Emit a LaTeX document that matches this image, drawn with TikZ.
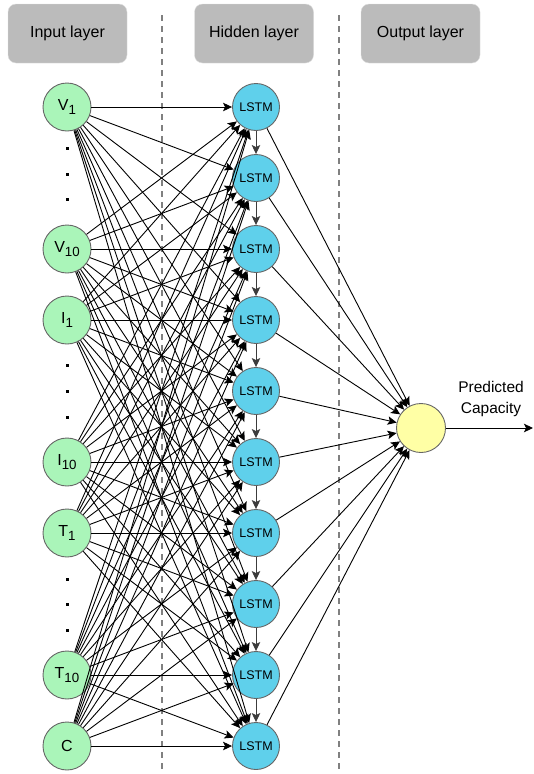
\documentclass[tikz,border=0pt]{standalone}
\usepackage{fontspec}
\setmainfont{Liberation Sans}
\usepackage{tikz}
\usetikzlibrary{arrows.meta, positioning}

\definecolor{InGreen}{RGB}{170,245,185}
\definecolor{CellBlue}{RGB}{95,208,235}
\definecolor{OutYellow}{RGB}{255,255,165}
\definecolor{BoxGray}{RGB}{187,187,187}
\definecolor{RimGray}{RGB}{102,102,102}

% lowered index as in the labels
\newcommand{\Idx}[1]{\raisebox{-4.3pt}{\fontsize{13.3}{13.3}\selectfont #1}}

\begin{document}
\begin{tikzpicture}[
	x=1pt, y=-1pt,
	InNode/.style={circle, draw=RimGray, line width=0.9pt, fill=InGreen,
		minimum size=48pt, inner sep=0pt, font=\fontsize{16}{19}\selectfont},
	CellNode/.style={circle, draw=RimGray, line width=0.9pt, fill=CellBlue,
		minimum size=47pt, inner sep=0pt, font=\fontsize{12.5}{15}\selectfont},
	OutNode/.style={circle, draw=RimGray, line width=0.9pt, fill=OutYellow,
		minimum size=49pt, inner sep=0pt},
	LayerBox/.style={draw={rgb,255:red,222;green,222;blue,222}, fill=BoxGray,
		rounded corners=8pt, minimum width=119pt, minimum height=59pt,
		font=\fontsize{16}{19}\selectfont},
	Conn/.style={-{Stealth[length=9pt, width=8.5pt, inset=2pt]}, line width=0.9pt},
	ChainConn/.style={-{Stealth[length=9pt, width=8.5pt, inset=2pt]}, line width=1pt,
		draw={rgb,255:red,60;green,60;blue,60}},
	Divider/.style={dashed, dash pattern=on 6pt off 5pt, line width=2.2pt,
		draw={rgb,255:red,128;green,128;blue,128}},
	Dot/.style={fill=black, inner sep=0pt, minimum size=3pt}
	]

\useasboundingbox (0,0) rectangle (533,774);

% layer headings
\node [LayerBox] (hdrin) at (67.5,33.5) {Input layer};
\node [LayerBox] (hdrhid) at (254,33.5) {Hidden layer};
\node [LayerBox] (hdrout) at (420.5,33.5) {Output layer};

% dividers
\coordinate (divatop) at (162,15);
\coordinate (divabot) at (162,774);
\coordinate (divbtop) at (339,15);
\coordinate (divbbot) at (339,774);
\draw [Divider] (divatop) -- (divabot);
\draw [Divider] (divbtop) -- (divbbot);

% input layer
\node [InNode] (v1) at (67,107) {V\Idx{1}};
\node [InNode] (v10) at (67,249) {V\Idx{10}};
\node [InNode] (i1) at (67,320) {I\Idx{1}};
\node [InNode] (i10) at (67,462) {I\Idx{10}};
\node [InNode] (t1) at (67,533) {T\Idx{1}};
\node [InNode] (t10) at (67,675) {T\Idx{10}};
\node [InNode] (c) at (67,746) {C};

\foreach \y in {148,174,199,365,391,417,579,604,630}
	\node [Dot] at (67,\y) {};

% hidden layer
\node [CellNode] (h1) at (256,107) {LSTM};
\node [CellNode] (h2) at (256,178) {LSTM};
\node [CellNode] (h3) at (256,249) {LSTM};
\node [CellNode] (h4) at (256,320) {LSTM};
\node [CellNode] (h5) at (256,391) {LSTM};
\node [CellNode] (h6) at (256,462) {LSTM};
\node [CellNode] (h7) at (256,533) {LSTM};
\node [CellNode] (h8) at (256,604) {LSTM};
\node [CellNode] (h9) at (256,675) {LSTM};
\node [CellNode] (h10) at (256,746) {LSTM};

% output layer
\node [OutNode] (out) at (421,428) {};
\node [align=center, font=\fontsize{15.5}{21}\selectfont] (outlbl) at (491,399) {Predicted\\Capacity};
\coordinate (outend) at (533,428);

% connections
\foreach \src in {v1,v10,i1,i10,t1,t10,c}
	\foreach \k in {1,...,10}
		\draw [Conn] (\src) -- (h\k);

\foreach \k [evaluate=\k as \n using int(\k+1)] in {1,...,9}
	\draw [ChainConn] (h\k) -- (h\n);

\foreach \k in {1,...,10}
	\draw [Conn] (h\k) -- (out);

\draw [Conn] (out) -- (outend);

\end{tikzpicture}
\end{document}
